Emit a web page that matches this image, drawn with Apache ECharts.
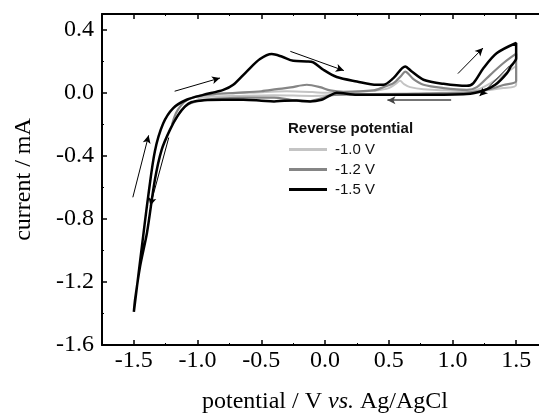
<!DOCTYPE html>
<html>
<head>
<meta charset="utf-8">
<script src="https://cdn.jsdelivr.net/npm/echarts@6/dist/echarts.min.js"></script>
<style>html,body{margin:0;padding:0;background:#fff}#c{width:539px;height:416px}</style>
</head>
<body>
<div id="c"></div>
<script>
// ---- data (potential in V, current in mA) ----
const seriesNames = ['-1.0 V', '-1.2 V', '-1.5 V'];

// Reverse potential -1.0 V
const potential10 = [-1.0, -0.9, -0.75, -0.6, -0.3, -0.1, 0.0, 0.2, 0.4, 0.5, 0.56, 0.589, 0.62, 0.668, 0.773, 1.035, 1.19, 1.297, 1.4, 1.5,
                     1.5, 1.4, 1.2, 1.0, 0.6, 0.2, -0.1, -0.4, -0.7, -0.9, -1.0];
const current10 = [-0.035, -0.012, -0.003, 0.0, 0.01, 0.005, 0.0, 0.005, 0.015, 0.03, 0.06, 0.076, 0.055, 0.036, 0.023, 0.015, 0.02, 0.06, 0.114, 0.17,
                   0.05, 0.03, 0.01, 0.0, -0.005, -0.01, -0.02, -0.015, -0.02, -0.025, -0.035];

// Reverse potential -1.2 V
const potential12 = [-1.2, -1.17, -1.13, -1.08, -1.0, -0.9, -0.7, -0.5, -0.379, -0.27, -0.143, -0.039, 0.04, 0.144, 0.38, 0.458, 0.537, 0.6, 0.629, 0.694, 0.773, 0.93, 1.113, 1.192, 1.297, 1.401, 1.5,
                     1.5, 1.4, 1.3, 1.2, 1.1, 0.8, 0.5, 0.2, 0.05, -0.05, -0.143, -0.27, -0.4, -0.6, -0.8, -0.95, -1.05, -1.1, -1.15, -1.2];
const current12 = [-0.2, -0.13, -0.08, -0.045, -0.022, -0.01, 0.0, 0.01, 0.023, 0.034, 0.051, 0.036, 0.015, 0.006, 0.015, 0.036, 0.061, 0.11, 0.135, 0.087, 0.051, 0.03, 0.019, 0.036, 0.114, 0.189, 0.248,
                   0.075, 0.05, 0.025, 0.01, 0.0, -0.005, -0.01, -0.01, -0.015, -0.04, -0.055, -0.044, -0.03, -0.03, -0.035, -0.045, -0.065, -0.09, -0.14, -0.2];

// Reverse potential -1.5 V
const potential15 = [-1.5, -1.465, -1.424, -1.388, -1.335, -1.27, -1.191, -1.086, -0.956, -0.798, -0.72, -0.615, -0.51, -0.418, -0.34, -0.249, -0.143, -0.092, -0.013, 0.092, 0.25, 0.406, 0.458, 0.537, 0.629, 0.681, 0.773, 0.93, 1.113, 1.165, 1.244, 1.349, 1.5,
                     1.5, 1.46, 1.428, 1.336, 1.244, 1.113, 0.773, 0.25, 0.092, 0.026, -0.026, -0.117, -0.222, -0.32, -0.4, -0.5, -0.641, -0.8, -0.95, -1.05, -1.1, -1.152, -1.217, -1.282, -1.335, -1.397, -1.451, -1.49, -1.5];
const current15 = [-1.39, -1.16, -0.89, -0.66, -0.37, -0.195, -0.097, -0.044, -0.013, 0.019, 0.051, 0.135, 0.214, 0.246, 0.23, 0.203, 0.199, 0.193, 0.146, 0.1, 0.072, 0.051, 0.051, 0.093, 0.167, 0.135, 0.083, 0.057, 0.044, 0.062, 0.157, 0.252, 0.316,
                   0.217, 0.17, 0.125, 0.051, 0.015, -0.008, -0.013, -0.013, 0.0, -0.023, -0.044, -0.055, -0.049, -0.05, -0.055, -0.05, -0.044, -0.044, -0.047, -0.06, -0.087, -0.14, -0.235, -0.362, -0.552, -0.888, -1.1, -1.31, -1.39];

// scan-direction arrows: [x1, y1, x2, y2] in data units
const arrowsBlack = [
  [-1.18, 0.01, -0.824, 0.094],
  [-0.272, 0.263, 0.148, 0.141],
  [1.043, 0.122, 1.24, 0.284],
  [1.45, 0.172, 1.213, -0.021],
  [-1.508, -0.663, -1.384, -0.27],
  [-1.226, -0.284, -1.371, -0.716]
];
const arrowsGray = [
  [0.99, -0.047, 0.49, -0.047]
];

// tick values
const xMajor = [-1.5, -1.0, -0.5, 0.0, 0.5, 1.0, 1.5];
const xMinor = [-1.75, -1.25, -0.75, -0.25, 0.25, 0.75, 1.25, 1.75];
const yMajor = [-1.6, -1.2, -0.8, -0.4, 0.0, 0.4];
const yMinor = [-1.4, -1.0, -0.6, -0.2, 0.2];

// ---- chart ----
const zip = (a, b) => a.map((v, i) => [v, b[i]]);
const toMark = (arr, color, width) => arr.map(a => [
  { coord: [a[0], a[1]], lineStyle: { color: color, width: width, type: 'solid' } },
  { coord: [a[2], a[3]] }
]);

const serif = '"Liberation Serif", "Times New Roman", serif';
const sans = '"Liberation Sans", Arial, sans-serif';

const chart = echarts.init(document.getElementById('c'), null, { renderer: 'canvas' });

const baseX = { type: 'value', min: -1.75, max: 1.75, splitLine: { show: false }, gridIndex: 0 };
const baseY = { type: 'value', min: -1.6, max: 0.5, splitLine: { show: false }, gridIndex: 0 };

chart.setOption({
  animation: false,
  backgroundColor: '#fff',
  grid: { left: 102, right: -9, top: 14, bottom: 71, containLabel: false, outerBoundsMode: 'none' },
  title: {
    text: 'Reverse potential',
    left: 288, top: 121,
    padding: 0,
    textStyle: { fontFamily: sans, fontSize: 15, fontWeight: 'bold', color: '#111' }
  },
  legend: {
    data: seriesNames,
    orient: 'vertical',
    left: 289, top: 142,
    padding: 0,
    icon: 'rect',
    itemWidth: 38, itemHeight: 3, itemGap: 5,
    textStyle: { fontFamily: sans, fontSize: 15, color: '#111', padding: [0, 0, 0, 3] },
    selectedMode: false
  },
  xAxis: [
    Object.assign({}, baseX, {
      position: 'bottom',
      axisLine: { show: true, onZero: false, lineStyle: { color: '#000', width: 2 } },
      axisTick: { show: true, inside: true, length: 5, customValues: xMajor, lineStyle: { color: '#000', width: 1.5 } },
      axisLabel: { customValues: xMajor, formatter: v => v.toFixed(1), fontFamily: serif, fontSize: 24, color: '#000', margin: 4 },
      name: '{a|potential / V }{b|vs.}{a| Ag/AgCl}',
      nameLocation: 'middle', nameGap: 45,
      nameTextStyle: {
        rich: {
          a: { fontFamily: serif, fontSize: 24, color: '#000' },
          b: { fontFamily: serif, fontSize: 24, fontStyle: 'italic', color: '#000' }
        }
      }
    }),
    Object.assign({}, baseX, {
      position: 'bottom',
      axisLine: { show: false, onZero: false },
      axisTick: { show: true, inside: true, length: 2, customValues: xMinor, lineStyle: { color: '#000', width: 1 } },
      axisLabel: { show: false }
    }),
    Object.assign({}, baseX, {
      position: 'top',
      axisLine: { show: true, onZero: false, lineStyle: { color: '#000', width: 2 } },
      axisTick: { show: true, inside: true, length: 5, customValues: xMajor, lineStyle: { color: '#000', width: 1.5 } },
      axisLabel: { show: false }
    }),
    Object.assign({}, baseX, {
      position: 'top',
      axisLine: { show: false, onZero: false },
      axisTick: { show: true, inside: true, length: 2, customValues: xMinor, lineStyle: { color: '#000', width: 1 } },
      axisLabel: { show: false }
    })
  ],
  yAxis: [
    Object.assign({}, baseY, {
      position: 'left',
      axisLine: { show: true, onZero: false, lineStyle: { color: '#000', width: 2 } },
      axisTick: { show: true, inside: true, length: 5, customValues: yMajor, lineStyle: { color: '#000', width: 1.5 } },
      axisLabel: { customValues: yMajor, formatter: v => v.toFixed(1), fontFamily: serif, fontSize: 24, color: '#000', margin: 8 },
      name: 'current / mA',
      nameLocation: 'middle', nameGap: 66, nameRotate: 90,
      nameTextStyle: { fontFamily: serif, fontSize: 24, color: '#000' }
    }),
    Object.assign({}, baseY, {
      position: 'left',
      axisLine: { show: false, onZero: false },
      axisTick: { show: true, inside: true, length: 2, customValues: yMinor, lineStyle: { color: '#000', width: 1 } },
      axisLabel: { show: false }
    })
  ],
  series: [
    {
      name: seriesNames[0], type: 'line', xAxisIndex: 0, yAxisIndex: 0,
      data: zip(potential10, current10), smooth: 0.3, symbol: 'none',
      lineStyle: { color: '#c4c4c4', width: 2 }, itemStyle: { color: '#c4c4c4' }, z: 2
    },
    {
      name: seriesNames[1], type: 'line', xAxisIndex: 0, yAxisIndex: 0,
      data: zip(potential12, current12), smooth: 0.3, symbol: 'none',
      lineStyle: { color: '#858585', width: 2.2 }, itemStyle: { color: '#858585' }, z: 3
    },
    {
      name: seriesNames[2], type: 'line', xAxisIndex: 0, yAxisIndex: 0,
      data: zip(potential15, current15), smooth: 0.3, symbol: 'none',
      lineStyle: { color: '#000', width: 2.5 }, itemStyle: { color: '#000' }, z: 4,
      markLine: {
        silent: true, animation: false,
        symbol: ['none', 'arrow'], symbolSize: [6, 8],
        label: { show: false },
        emphasis: { disabled: true },
        lineStyle: { color: '#000', width: 1, type: 'solid' },
        data: toMark(arrowsBlack, '#000', 1).concat(toMark(arrowsGray, '#444', 1.5))
      }
    }
  ]
});
</script>
</body>
</html>
